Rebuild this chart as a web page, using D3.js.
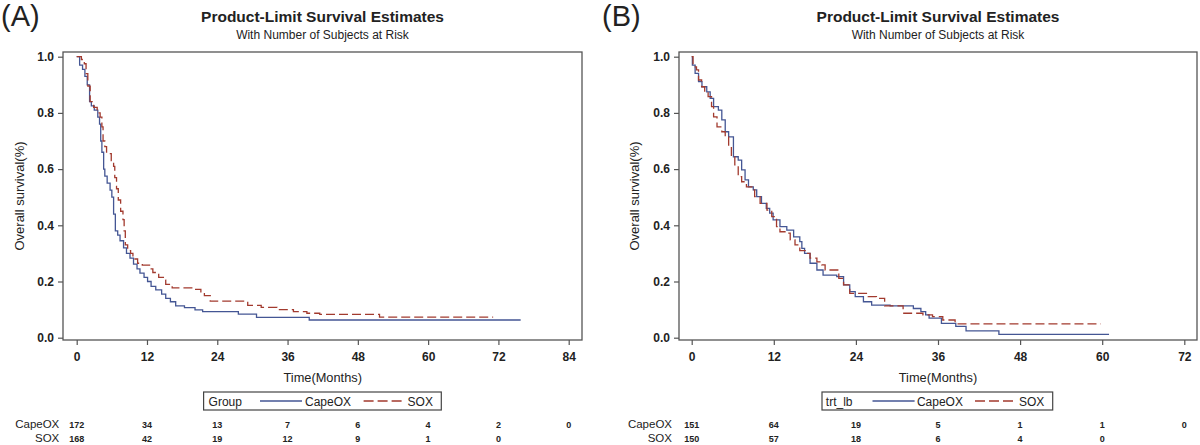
<!DOCTYPE html>
<html><head><meta charset="utf-8">
<script src="https://cdn.jsdelivr.net/npm/d3@7"></script>
<style>
body{margin:0;background:#fff}
svg{display:block}
text{font-family:"Liberation Sans",Arial,Helvetica,sans-serif;fill:#222}
</style>
</head><body><svg id="c" width="1200" height="445"></svg>
<script>
// ---------- DATA ----------
const panelLabels = ["(A)", "(B)"];
const titleText = "Product-Limit Survival Estimates";
const subtitleText = "With Number of Subjects at Risk";
const yLabel = "Overall survival(%)";
const xLabel = "Time(Months)";
const seriesNames = ["CapeOX", "SOX"];
const legendTitles = ["Group", "trt_lb"];
const yTicks = [0, 0.2, 0.4, 0.6, 0.8, 1.0];
const xTicksA = [0, 12, 24, 36, 48, 60, 72, 84];
const xTicksB = [0, 12, 24, 36, 48, 60, 72];

// Panel A – CapeOX
const timeA_CapeOX = [0, 0.5, 1.0, 1.4, 1.8, 2.2, 2.5, 3.0, 3.6, 3.9, 4.1, 4.3, 4.6, 4.8, 5.2, 5.7, 6.0, 6.3, 6.6, 7.0, 7.4, 8.0, 8.5, 9.1, 9.7, 10.3, 10.8, 11.5, 12.1, 12.7, 13.5, 14.5, 15.2, 16.0, 16.9, 18.4, 20.2, 21.5, 27.6, 30.7, 39.7, 75.8];
const survA_CapeOX = [1.0, 0.97, 0.955, 0.93, 0.90, 0.84, 0.825, 0.81, 0.785, 0.76, 0.70, 0.66, 0.60, 0.575, 0.55, 0.525, 0.50, 0.44, 0.38, 0.365, 0.345, 0.32, 0.30, 0.283, 0.262, 0.245, 0.23, 0.215, 0.20, 0.183, 0.17, 0.155, 0.14, 0.128, 0.113, 0.107, 0.099, 0.0925, 0.084, 0.072, 0.063, 0.063];
// Panel A – SOX
const timeA_SOX = [0, 0.8, 1.3, 1.6, 1.9, 2.3, 2.9, 3.5, 4.0, 4.3, 4.5, 4.8, 5.1, 5.9, 6.3, 6.5, 6.8, 7.1, 7.5, 7.9, 8.1, 8.3, 8.7, 9.2, 9.6, 10.4, 11.2, 12.6, 13.0, 14.0, 14.8, 15.2, 16.3, 19.8, 21.2, 21.8, 22.8, 29.2, 31.5, 34.2, 37.0, 39.3, 41.5, 51.7, 71.1];
const survA_SOX = [1.0, 0.99, 0.975, 0.94, 0.895, 0.84, 0.82, 0.80, 0.785, 0.75, 0.70, 0.68, 0.655, 0.63, 0.61, 0.57, 0.53, 0.49, 0.45, 0.42, 0.38, 0.33, 0.31, 0.30, 0.28, 0.265, 0.258, 0.245, 0.232, 0.215, 0.205, 0.19, 0.177, 0.172, 0.16, 0.15, 0.13, 0.115, 0.108, 0.10, 0.093, 0.087, 0.083, 0.073, 0.073];
// Panel B – CapeOX
const timeB_CapeOX = [0, 0.1, 0.5, 1.0, 1.5, 2.2, 2.7, 3.2, 3.9, 4.4, 4.9, 5.4, 6.1, 6.8, 7.3, 7.8, 8.3, 9.0, 9.5, 10.2, 10.9, 11.4, 11.9, 12.9, 13.9, 14.9, 15.8, 16.1, 16.5, 17.3, 18.3, 19.2, 21.2, 22.2, 23.1, 23.9, 25.1, 26.3, 29.0, 32.4, 33.5, 34.2, 34.7, 36.5, 38.6, 40.1, 44.9, 61.0];
const survB_CapeOX = [1.0, 0.97, 0.941, 0.911, 0.893, 0.875, 0.852, 0.822, 0.81, 0.775, 0.733, 0.715, 0.644, 0.632, 0.597, 0.562, 0.537, 0.526, 0.502, 0.478, 0.46, 0.443, 0.419, 0.395, 0.383, 0.359, 0.342, 0.318, 0.30, 0.265, 0.241, 0.223, 0.217, 0.188, 0.164, 0.146, 0.128, 0.116, 0.113, 0.104, 0.093, 0.081, 0.07, 0.051, 0.04, 0.024, 0.012, 0.012];
// Panel B – SOX
const timeB_SOX = [0, 0.2, 0.7, 1.0, 1.45, 1.9, 2.4, 2.9, 3.2, 3.7, 4.4, 4.9, 5.4, 5.8, 6.3, 6.8, 7.3, 8.0, 8.8, 9.2, 10.0, 11.0, 11.7, 12.4, 12.9, 13.9, 14.4, 15.1, 15.8, 16.8, 17.3, 18.3, 19.0, 19.5, 21.5, 22.2, 23.1, 25.8, 27.0, 28.2, 30.9, 33.8, 35.2, 36.7, 38.5, 59.8];
const survB_SOX = [1.0, 0.964, 0.953, 0.917, 0.893, 0.875, 0.858, 0.822, 0.786, 0.75, 0.733, 0.715, 0.68, 0.644, 0.615, 0.573, 0.555, 0.537, 0.526, 0.502, 0.478, 0.454, 0.431, 0.395, 0.377, 0.372, 0.348, 0.33, 0.31, 0.30, 0.283, 0.27, 0.259, 0.241, 0.211, 0.188, 0.158, 0.146, 0.14, 0.113, 0.087, 0.081, 0.075, 0.063, 0.049, 0.049];

// Numbers at risk
const riskA_CapeOX = [172, 34, 13, 7, 6, 4, 2, 0];
const riskA_SOX = [168, 42, 19, 12, 9, 1, 0];
const riskB_CapeOX = [151, 64, 19, 5, 1, 1, 0];
const riskB_SOX = [150, 57, 18, 6, 4, 0];

// ---------- STYLE / LAYOUT ----------
const colors = ["#445694", "#A23A2E"];
const dash = ["none", "9,4"];
const FONT = '"Liberation Sans",Arial,Helvetica,sans-serif';

const panels = [
  { label: panelLabels[0], labelX: 1, frame: {x0: 63, y0: 52, x1: 582, y1: 340}, xr: [76.7, 568.7], xmax: 84, xTicks: xTicksA,
    series: [[timeA_CapeOX, survA_CapeOX], [timeA_SOX, survA_SOX]], risk: [riskA_CapeOX, riskA_SOX],
    legendTitle: legendTitles[0], legendBox: [203.6, 441.3], legendItems: [208.6, 260, 302, 305, 363.6, 403.7, 407.6],
    riskLabelX: 59.3, yLabelX: 20 },
  { label: panelLabels[1], labelX: 602, frame: {x0: 679, y0: 52, x1: 1197, y1: 340}, xr: [691.7, 1184.3], xmax: 72, xTicks: xTicksB,
    series: [[timeB_CapeOX, survB_CapeOX], [timeB_SOX, survB_SOX]], risk: [riskB_CapeOX, riskB_SOX],
    legendTitle: legendTitles[1], legendBox: [822, 1052.7], legendItems: [825.8, 872.5, 914.6, 916.9, 975, 1015, 1019],
    riskLabelX: 672, yLabelX: 635 }
];

const svg = d3.select("#c");

panels.forEach(p => {
  const f = p.frame;
  const g = svg.append("g");
  const x = d3.scaleLinear().domain([0, p.xmax]).range(p.xr);
  const y = d3.scaleLinear().domain([0, 1]).range([337.7, 56.7]);
  const cx = (f.x0 + f.x1) / 2;

  // panel label
  g.append("text").attr("x", p.labelX).attr("y", 26).attr("font-size", 29).text(p.label);
  // titles
  g.append("text").attr("x", cx).attr("y", 22).attr("text-anchor", "middle").attr("font-size", 15.5)
    .attr("font-weight", "bold").attr("fill", "#333").text(titleText);
  g.append("text").attr("x", cx).attr("y", 39).attr("text-anchor", "middle").attr("font-size", 12).text(subtitleText);

  // frame
  g.append("rect").attr("x", f.x0).attr("y", f.y0).attr("width", f.x1 - f.x0).attr("height", f.y1 - f.y0)
    .attr("fill", "none").attr("stroke", "#555").attr("stroke-width", 1.3);

  // y axis
  const ya = g.append("g").attr("transform", `translate(${f.x0},0)`)
    .call(d3.axisLeft(y).tickValues(yTicks).tickFormat(d3.format(".1f")).tickSize(5).tickSizeOuter(0).tickPadding(4));
  ya.select(".domain").remove();
  ya.selectAll("line").attr("stroke", "#555").attr("stroke-width", 1.2);
  ya.selectAll("text").attr("font-size", 12).attr("font-weight", "bold").attr("font-family", FONT).attr("fill", "#222");

  // x axis
  const xa = g.append("g").attr("transform", `translate(0,${f.y1})`)
    .call(d3.axisBottom(x).tickValues(p.xTicks).tickFormat(d3.format("d")).tickSize(5).tickSizeOuter(0).tickPadding(7));
  xa.select(".domain").remove();
  xa.selectAll("line").attr("stroke", "#555").attr("stroke-width", 1.2);
  xa.selectAll("text").attr("font-size", 12).attr("font-weight", "bold").attr("font-family", FONT).attr("fill", "#222");

  // axis titles
  g.append("text").attr("transform", `translate(${p.yLabelX + 4},196) rotate(-90)`).attr("text-anchor", "middle")
    .attr("font-size", 13).text(yLabel);
  g.append("text").attr("x", x(p.xmax / 2)).attr("y", 382).attr("text-anchor", "middle").attr("font-size", 12.8).text(xLabel);

  // curves
  const line = d3.line().curve(d3.curveStepAfter).x(d => x(d[0])).y(d => y(d[1]));
  p.series.forEach((s, i) => {
    g.append("path").datum(d3.zip(s[0], s[1])).attr("d", line)
      .attr("fill", "none").attr("stroke", colors[i]).attr("stroke-width", 1.3)
      .attr("stroke-dasharray", dash[i]);
  });

  // legend
  const lb = p.legendBox, li = p.legendItems;
  const ly0 = 392, ly1 = 410, lmid = 401, ltext = 405.5;
  g.append("rect").attr("x", lb[0]).attr("y", ly0).attr("width", lb[1] - lb[0]).attr("height", ly1 - ly0)
    .attr("fill", "none").attr("stroke", "#444").attr("stroke-width", 1.2);
  g.append("text").attr("x", li[0]).attr("y", ltext).attr("font-size", 12).text(p.legendTitle);
  g.append("line").attr("x1", li[1]).attr("x2", li[2]).attr("y1", lmid).attr("y2", lmid)
    .attr("stroke", colors[0]).attr("stroke-width", 1.3);
  g.append("text").attr("x", li[3]).attr("y", ltext).attr("font-size", 12).text(seriesNames[0]);
  g.append("line").attr("x1", li[4]).attr("x2", li[5]).attr("y1", lmid).attr("y2", lmid)
    .attr("stroke", colors[1]).attr("stroke-width", 1.3).attr("stroke-dasharray", "10,4");
  g.append("text").attr("x", li[6]).attr("y", ltext).attr("font-size", 12).text(seriesNames[1]);

  // risk table
  const rowY = [428, 442];
  p.risk.forEach((vals, i) => {
    g.append("text").attr("x", p.riskLabelX).attr("y", rowY[i]).attr("text-anchor", "end").attr("font-size", 11.5).text(seriesNames[i]);
    g.selectAll(null).data(vals).enter().append("text")
      .attr("x", (d, k) => x(p.xTicks[k])).attr("y", rowY[i] - 0.5).attr("text-anchor", "middle")
      .attr("font-size", 9).attr("font-weight", "bold").text(d => d);
  });
});
</script>
</body></html>
